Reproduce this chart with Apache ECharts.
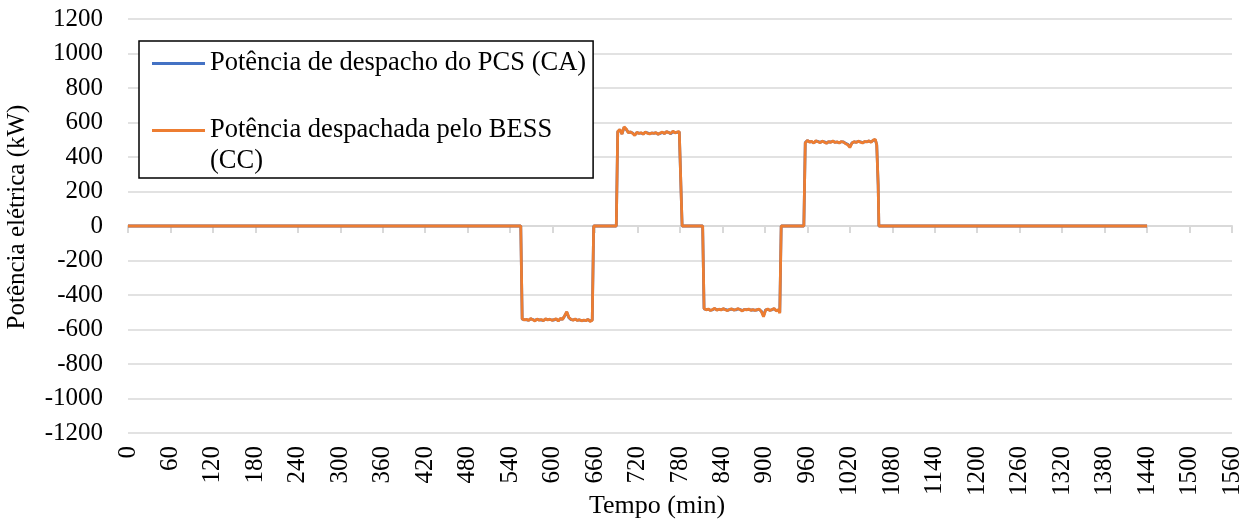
<!DOCTYPE html>
<html>
<head>
<meta charset="utf-8">
<script src="https://cdn.jsdelivr.net/npm/echarts@6/dist/echarts.min.js"></script>
<style>
  html, body { margin: 0; padding: 0; background: #fff; }
  #chart { width: 1259px; height: 522px; }
</style>
</head>
<body>
<div id="chart"></div>
<script>
// tempo (min) dos pontos
const tempo = [
  0, 555,
  557, 560, 563, 566, 569, 572, 575, 578, 581, 584,
  587, 590, 593, 596, 599, 602, 605, 608, 611, 614,
  617, 620, 623, 626, 629, 632, 635, 638, 641, 644,
  647, 650, 653, 656,
  658, 690,
  692, 695, 698, 701, 704, 707, 710, 713, 716, 719,
  722, 725, 728, 731, 734, 737, 740, 743, 746, 749,
  752, 755, 758, 761, 764, 767, 770, 773, 776, 779,
  781,
  783, 812,
  814, 817, 820, 823, 826, 829, 832, 835, 838, 841,
  844, 847, 850, 853, 856, 859, 862, 865, 868, 871,
  874, 877, 880, 883, 886, 889, 892, 895, 898, 901,
  904, 907, 910, 913, 916, 919, 921,
  923, 955,
  957, 960, 963, 966, 969, 972, 975, 978, 981, 984,
  987, 990, 993, 996, 999, 1002, 1005, 1008, 1011, 1014,
  1017, 1020, 1023, 1026, 1029, 1032, 1035, 1038, 1041, 1044,
  1047, 1050, 1053, 1056,
  1058, 1060, 1061, 1440
];

// Potência de despacho do PCS (CA), kW
const pcsCA = [
  0, 0,
  -540, -543, -544, -546, -539, -542, -548, -541, -544, -545,
  -547, -540, -543, -542, -545, -545, -540, -549, -538, -540,
  -522, -500, -532, -543, -544, -541, -546, -545, -548, -547,
  -547, -543, -551, -545,
  0, 0,
  546, 557, 535, 571, 560, 543, 544, 539, 528, 541,
  538, 539, 534, 543, 540, 535, 538, 538, 540, 533,
  537, 542, 537, 546, 543, 535, 548, 541, 543, 545,
  542,
  0, 0,
  -480, -484, -483, -488, -486, -479, -486, -484, -485, -481,
  -483, -489, -485, -482, -486, -486, -481, -484, -490, -485,
  -485, -483, -487, -486, -488, -487, -484, -494, -520, -486,
  -483, -488, -486, -480, -490, -488, -500,
  0, 0,
  484, 495, 488, 489, 482, 492, 490, 485, 490, 488,
  481, 488, 487, 491, 486, 486, 483, 488, 488, 479,
  474, 460, 482, 487, 486, 490, 488, 483, 488, 489,
  492, 487, 496, 500,
  470, 240, 0, 0
];

// Potência despachada pelo BESS (CC), kW
const bessCC = [
  0, 0,
  -538, -545, -541, -548, -536, -544, -550, -539, -546, -542,
  -549, -537, -545, -540, -547, -543, -538, -551, -535, -542,
  -520, -497, -530, -541, -546, -539, -548, -543, -550, -545,
  -549, -541, -553, -547,
  0, 0,
  548, 560, 533, 575, 562, 541, 546, 537, 525, 543,
  536, 541, 532, 545, 538, 533, 540, 536, 542, 531,
  539, 544, 535, 548, 541, 537, 550, 539, 545, 547,
  540,
  0, 0,
  -478, -486, -481, -490, -484, -477, -488, -482, -487, -479,
  -485, -491, -483, -480, -488, -484, -479, -486, -492, -483,
  -487, -481, -489, -484, -490, -485, -482, -496, -526, -488,
  -481, -490, -484, -478, -492, -486, -505,
  0, 0,
  482, 497, 486, 491, 480, 494, 488, 483, 492, 486,
  479, 490, 485, 493, 484, 488, 481, 490, 486, 477,
  472, 455, 480, 489, 484, 492, 486, 481, 490, 487,
  494, 485, 498, 503,
  470, 240, 0, 0
];

const nomePCS = 'Potência de despacho do PCS (CA)';
const nomeBESS = 'Potência despachada pelo BESS (CC)';

const fonte = 'Liberation Serif, Times New Roman, serif';

let chartDom = document.getElementById('chart');
let myChart = echarts.init(chartDom);
let option;

option = {
  animation: false,
  textStyle: { fontFamily: fonte, color: '#000' },
  grid: { left: 128, right: 27, top: 19, bottom: 89, outerBoundsMode: 'none', containLabel: false },
  legend: {
    orient: 'vertical',
    left: 139,
    top: 41,
    padding: [7, 7, 1, 13],
    itemGap: 5,
    itemWidth: 53,
    itemHeight: 3,
    icon: 'rect',
    borderColor: '#000',
    borderWidth: 1.5,
    borderRadius: 0,
    backgroundColor: '#fff',
    textStyle: { fontFamily: fonte, fontSize: 26.5, color: '#000', lineHeight: 31 },
    formatter: function (name) {
      // linha vazia acima para alinhar o ícone com a primeira linha do texto
      return name === nomeBESS ? '\nPotência despachada pelo BESS\n(CC)' : name;
    },
    data: [nomePCS, nomeBESS]
  },
  xAxis: [
    {
      type: 'value',
      min: 0,
      max: 1560,
      interval: 60,
      axisLine: { onZero: true, lineStyle: { color: '#d9d9d9', width: 2 } },
      axisTick: { show: true, length: 7, lineStyle: { color: '#d9d9d9', width: 2 } },
      axisLabel: { show: false },
      splitLine: { show: false }
    },
    {
      type: 'value',
      position: 'bottom',
      min: 0,
      max: 1560,
      interval: 60,
      axisLine: { show: false, onZero: false },
      axisTick: { show: false },
      splitLine: { show: false },
      axisLabel: {
        rotate: 90, margin: 13, fontFamily: fonte, fontSize: 25, color: '#000',
        formatter: v => String(v)
      },
      name: 'Tempo (min)',
      nameLocation: 'middle',
      nameGap: 60,
      nameMoveOverlap: false,
      nameTextStyle: { fontFamily: fonte, fontSize: 26, color: '#000', padding: [0, 46, 0, 0] }
    }
  ],
  yAxis: {
    type: 'value',
    min: -1200,
    max: 1200,
    interval: 200,
    axisLine: { show: false },
    axisTick: { show: false },
    axisLabel: {
      margin: 25, fontFamily: fonte, fontSize: 25, color: '#000',
      formatter: v => String(v)
    },
    splitLine: { lineStyle: { color: '#d9d9d9', width: 1.5 } },
    name: 'Potência elétrica (kW)',
    nameLocation: 'middle',
    nameGap: 98,
    nameMoveOverlap: false,
    nameTextStyle: { fontFamily: fonte, fontSize: 25, color: '#000', padding: [0, 0, 0, 18] }
  },
  series: [
    {
      name: nomePCS,
      type: 'line',
      xAxisIndex: 0,
      symbol: 'none',
      lineStyle: { color: '#4472c4', width: 2.8 },
      itemStyle: { color: '#4472c4' },
      data: tempo.map((t, i) => [t, pcsCA[i]])
    },
    {
      name: nomeBESS,
      type: 'line',
      xAxisIndex: 0,
      symbol: 'none',
      lineStyle: { color: '#ed7d31', width: 2.8 },
      itemStyle: { color: '#ed7d31' },
      data: tempo.map((t, i) => [t, bessCC[i]])
    }
  ]
};

option && myChart.setOption(option);
</script>
</body>
</html>
